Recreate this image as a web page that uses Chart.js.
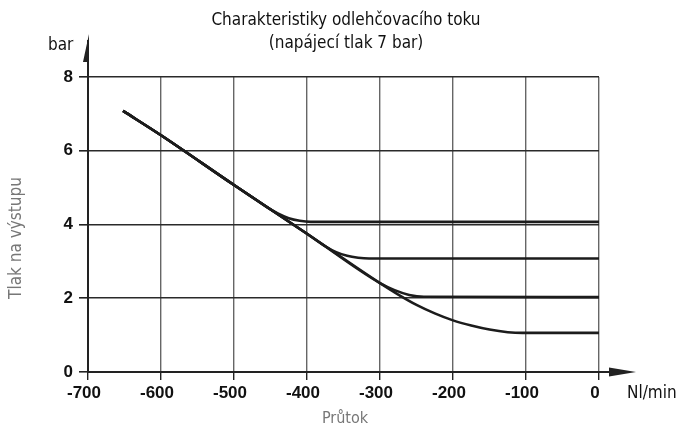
<!DOCTYPE html>
<html>
<head>
<meta charset="utf-8">
<script src="https://cdn.jsdelivr.net/npm/chart.js@4"></script>
<style>
  html, body { margin: 0; padding: 0; background: #fff; }
  #wrap { width: 684px; height: 430px; }
</style>
</head>
<body>
<div id="wrap"><canvas id="myChart" width="684" height="430"></canvas></div>
<script>
// flow (Nl/min) and outlet pressure (bar) for each setting
const flow4 = [-652, -600, -500, -470, -455, -440, -425, -410, -395, 0];
const pres4 = [7.08, 6.42, 5.07, 4.67, 4.47, 4.3, 4.17, 4.1, 4.07, 4.07];
const flow3 = [-652, -600, -500, -400, -375, -360, -345, -330, -315, 0];
const pres3 = [7.08, 6.42, 5.07, 3.75, 3.41, 3.25, 3.15, 3.1, 3.08, 3.08];
const flow2 = [-652, -600, -500, -400, -300, -280, -260, -240, 0];
const pres2 = [7.08, 6.42, 5.07, 3.75, 2.41, 2.22, 2.09, 2.04, 2.03];
const flow1 = [-652, -600, -500, -400, -300, -275, -250, -225, -200, -175, -150, -125, -105, 0];
const pres1 = [7.08, 6.42, 5.07, 3.75, 2.41, 2.1, 1.82, 1.59, 1.4, 1.26, 1.15, 1.08, 1.06, 1.06];

const titleLines = ["Charakteristiky odlehčovacího toku", "(napájecí tlak 7 bar)"];
const yUnit = "bar";
const xUnit = "Nl/min";
const yTitle = "Tlak na výstupu";
const xTitle = "Průtok";

const condensed = '"DejaVu Sans Condensed", "Liberation Sans Narrow", Roboto, sans-serif';

function pts(xs, ys) {
  return xs.map((x, i) => ({ x: x, y: ys[i] }));
}

function curve(xs, ys) {
  return {
    data: pts(xs, ys),
    borderColor: "#1c1c1c",
    borderWidth: 2.6,
    pointRadius: 0,
    fill: false,
    cubicInterpolationMode: "monotone",
  };
}

const decor = {
  id: "decor",
  afterDraw(chart) {
    const c = chart.ctx;
    const a = chart.chartArea;
    c.save();
    // arrows
    c.fillStyle = "#222";
    c.strokeStyle = "#222";
    c.lineWidth = 2;
    c.beginPath();
    c.moveTo(a.left, a.top);
    c.lineTo(a.left, 40);
    c.stroke();
    c.beginPath();
    c.moveTo(a.left + 1, 34);
    c.lineTo(a.left - 5, 62);
    c.lineTo(a.left + 1, 62);
    c.closePath();
    c.fill();
    c.beginPath();
    c.moveTo(a.right, a.bottom);
    c.lineTo(628, a.bottom);
    c.stroke();
    c.beginPath();
    c.moveTo(636, a.bottom);
    c.lineTo(609, a.bottom - 4.5);
    c.lineTo(609, a.bottom + 4.5);
    c.closePath();
    c.fill();
    // texts
    c.fillStyle = "#111";
    c.textAlign = "center";
    c.textBaseline = "middle";
    c.font = "17px " + condensed;
    c.fillText(titleLines[0], 346, 21);
    c.fillText(titleLines[1], 346, 44);
    c.textAlign = "left";
    c.fillText(yUnit, 48, 46);
    c.fillText(xUnit, 627, 394);
    c.fillStyle = "#777";
    c.font = "16px " + condensed;
    c.textAlign = "center";
    c.fillText(xTitle, 345, 419);
    c.font = "17px " + condensed;
    c.translate(17, 238);
    c.rotate(-Math.PI / 2);
    c.fillText(yTitle, 0, 0);
    c.restore();
  },
};

const ctx = document.getElementById("myChart").getContext("2d");
const myChart = new Chart(ctx, {
  type: "line",
  data: {
    datasets: [
      curve(flow1, pres1),
      curve(flow2, pres2),
      curve(flow3, pres3),
      curve(flow4, pres4),
    ],
  },
  options: {
    responsive: false,
    animation: false,
    layout: { padding: { top: 77, right: 85, left: 0, bottom: 0 } },
    plugins: {
      legend: { display: false },
      tooltip: { enabled: false },
    },
    scales: {
      x: {
        type: "linear",
        min: -700,
        max: 0,
        ticks: {
          stepSize: 100,
          color: "#111",
          padding: 3,
          labelOffset: -4,
          font: { family: '"Liberation Sans", Arial, sans-serif', size: 17, weight: "bold" },
        },
        grid: { color: "#666", lineWidth: 1.4, tickLength: 8, tickColor: "#222" },
        border: { color: "#222", width: 2 },
        afterFit(scale) { scale.height = 58; },
      },
      y: {
        min: 0,
        max: 8,
        ticks: {
          stepSize: 2,
          color: "#111",
          padding: 6,
          font: { family: '"Liberation Sans", Arial, sans-serif', size: 17, weight: "bold" },
        },
        grid: { color: "#2a2a2a", lineWidth: 1.6, tickLength: 9, tickColor: "#222" },
        border: { color: "#222", width: 2 },
        afterFit(scale) { scale.width = 88; },
      },
    },
  },
  plugins: [decor],
});
</script>
</body>
</html>
